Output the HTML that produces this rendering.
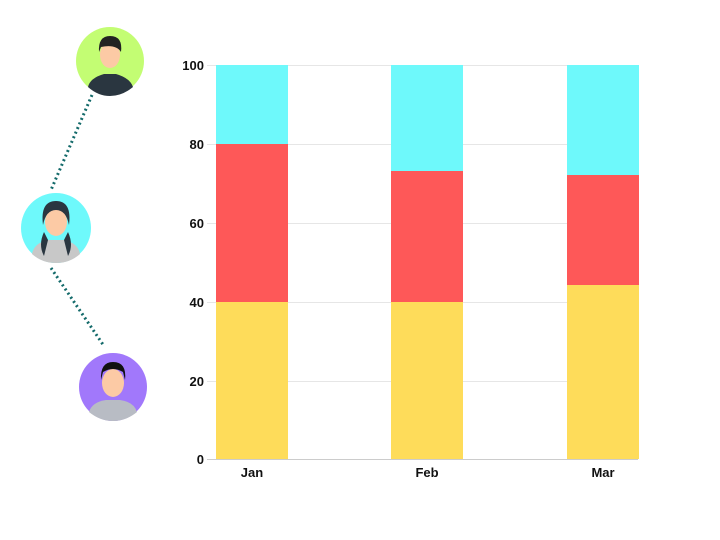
<!DOCTYPE html>
<html><head><style>body{margin:0;background:#fff}svg{display:block}text{font-family:"Liberation Sans",sans-serif;font-weight:bold;font-size:13px;fill:#111}</style></head><body>
<svg width="720" height="540" viewBox="0 0 720 540">
<g stroke="#e6e6e6" stroke-width="1">
<line x1="207" y1="65.5" x2="638" y2="65.5"/><line x1="207" y1="144.5" x2="638" y2="144.5"/><line x1="207" y1="223.5" x2="638" y2="223.5"/><line x1="207" y1="302.5" x2="638" y2="302.5"/><line x1="207" y1="381.5" x2="638" y2="381.5"/>
</g>
<rect x="216" y="65" width="72" height="79" fill="#6ef9fb"/><rect x="216" y="144" width="72" height="158" fill="#fe5858"/><rect x="216" y="302" width="72" height="157" fill="#fedc5a"/>
<rect x="391" y="65" width="72" height="106" fill="#6ef9fb"/><rect x="391" y="171" width="72" height="131" fill="#fe5858"/><rect x="391" y="302" width="72" height="157" fill="#fedc5a"/>
<rect x="567" y="65" width="72" height="110" fill="#6ef9fb"/><rect x="567" y="175" width="72" height="110" fill="#fe5858"/><rect x="567" y="285" width="72" height="174" fill="#fedc5a"/>
<line x1="207" y1="459.5" x2="638" y2="459.5" stroke="#ccc"/>
<g text-anchor="end"><text x="204" y="70">100</text><text x="204" y="149">80</text><text x="204" y="228">60</text><text x="204" y="307">40</text><text x="204" y="386">20</text><text x="204" y="464">0</text></g>
<g text-anchor="middle"><text x="252" y="477">Jan</text><text x="427" y="477">Feb</text><text x="603" y="477">Mar</text></g>
<g stroke="#136a6a" stroke-width="3" stroke-dasharray="2 3"><line x1="92" y1="95" x2="51" y2="190"/><line x1="51" y1="268" x2="104" y2="346"/></g>
<circle cx="110" cy="61" r="34" fill="#c3fd73"/>
<path d="M88 87 Q90 78 104 74 L116 74 Q130 78 133 87 Q122 96 110 96 Q98 96 88 87Z" fill="#2a3640"/>
<ellipse cx="110" cy="55" rx="10" ry="13" fill="#fccaa5"/><path d="M99 52 Q98 36 110 36 Q123 36 121 52 Q116 44 101 47Z" fill="#222"/>
<circle cx="56" cy="228" r="35" fill="#6ef9fb"/>
<path d="M32 254 Q34 243 48 240 L64 240 Q78 243 80 254 Q70 263 56 263 Q42 263 32 254Z" fill="#c8c8c8"/>
<path d="M44 232 Q38 245 44 256 L48 240Z M68 232 Q74 245 68 256 L64 240Z" fill="#2a3640"/>
<ellipse cx="56" cy="222" rx="11" ry="14" fill="#fccaa5"/><path d="M43 225 Q40 201 56 201 Q72 201 69 225 Q66 210 56 210 Q46 210 43 225Z" fill="#2a3640"/>
<circle cx="113" cy="387" r="34" fill="#a178fb"/>
<path d="M89 412 Q92 402 106 400 L120 400 Q134 402 137 412 Q126 421 113 421 Q100 421 89 412Z" fill="#b8bcc4"/>
<ellipse cx="113" cy="383" rx="11" ry="14" fill="#fccaa5"/><path d="M101 380 Q100 362 113 362 Q127 362 125 380 L123 372 Q113 366 103 372Z" fill="#111"/>
</svg>
</body></html>
